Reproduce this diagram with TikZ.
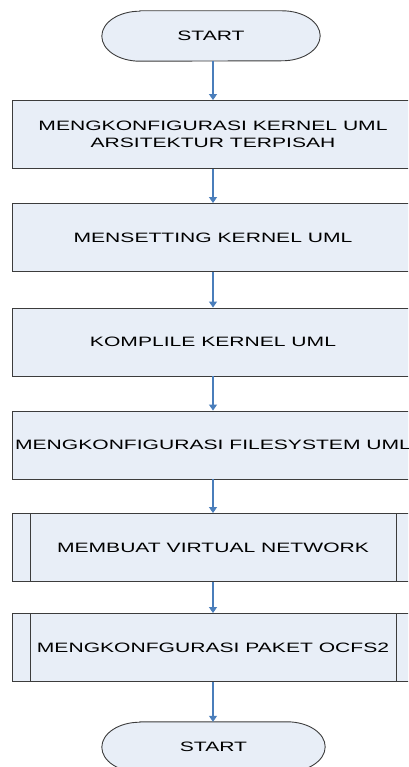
\documentclass[tikz,border=0pt]{standalone}
\usepackage{fontspec}
\setmainfont[FakeStretch=1.55]{Liberation Sans}
\usetikzlibrary{arrows.meta,backgrounds}
\definecolor{boxfill}{HTML}{E8EEF7}
\definecolor{boxline}{HTML}{3C3C3C}
\definecolor{arrowblue}{HTML}{4A7EBB}
\tikzset{
  procbox/.style={draw=boxline, fill=boxfill, line width=0.9pt, minimum width=401pt, minimum height=68pt, align=center, inner sep=0pt},
  predef/.style={procbox},
  termnode/.style={minimum width=#1, minimum height=50pt, inner sep=0pt},
  flow/.style={draw=arrowblue, line width=1.1pt, -{Triangle[width=8pt,length=6pt]}},
  termpath/.style={draw=boxline, fill=boxfill, line width=0.9pt}
}
\newcommand{\stadium}[1]{%
  \path[termpath] ([xshift=38pt]#1.north west) -- ([xshift=-38pt]#1.north east)
    arc[start angle=90, end angle=-90, x radius=38pt, y radius=25pt]
    -- ([xshift=38pt]#1.south west)
    arc[start angle=270, end angle=90, x radius=38pt, y radius=25pt] -- cycle;}
\begin{document}
\begin{tikzpicture}[x=1pt,y=-1pt, font=\fontsize{13.6}{17}\selectfont]
\path[use as bounding box, clip] (0,0) rectangle (408,767);
\node[termnode=218pt] (s1) at (211,36) {START};
\node[procbox] (b1) at (213,134.5) {MENGKONFIGURASI KERNEL UML\\ARSITEKTUR TERPISAH};
\node[procbox] (b2) at (213,237.5) {MENSETTING KERNEL UML};
\node[procbox] (b3) at (213,342) {KOMPLILE KERNEL UML};
\node[procbox] (b4) at (213,445) {MENGKONFIGURASI FILESYSTEM UML};
\node[predef] (b5) at (213,547.5) {MEMBUAT VIRTUAL NETWORK};
\node[predef] (b6) at (213,647.5) {MENGKONFGURASI PAKET OCFS2};
\node[termnode=223pt] (s2) at (213.5,747) {START};
\begin{scope}[on background layer]
  \stadium{s1}
  \stadium{s2}
\end{scope}
\foreach \b in {b5,b6}{
  \draw[boxline, line width=0.9pt] ([xshift=18pt]\b.north west) -- ([xshift=18pt]\b.south west);
  \draw[boxline, line width=0.9pt] ([xshift=-18pt]\b.north east) -- ([xshift=-18pt]\b.south east);
}
\draw[flow] (s1.south -| b1.north) -- (b1.north);
\draw[flow] (b1) -- (b2);
\draw[flow] (b2) -- (b3);
\draw[flow] (b3) -- (b4);
\draw[flow] (b4) -- (b5);
\draw[flow] (b5) -- (b6);
\draw[flow] (b6.south) -- (s2.north -| b6.south);
\end{tikzpicture}
\end{document}
